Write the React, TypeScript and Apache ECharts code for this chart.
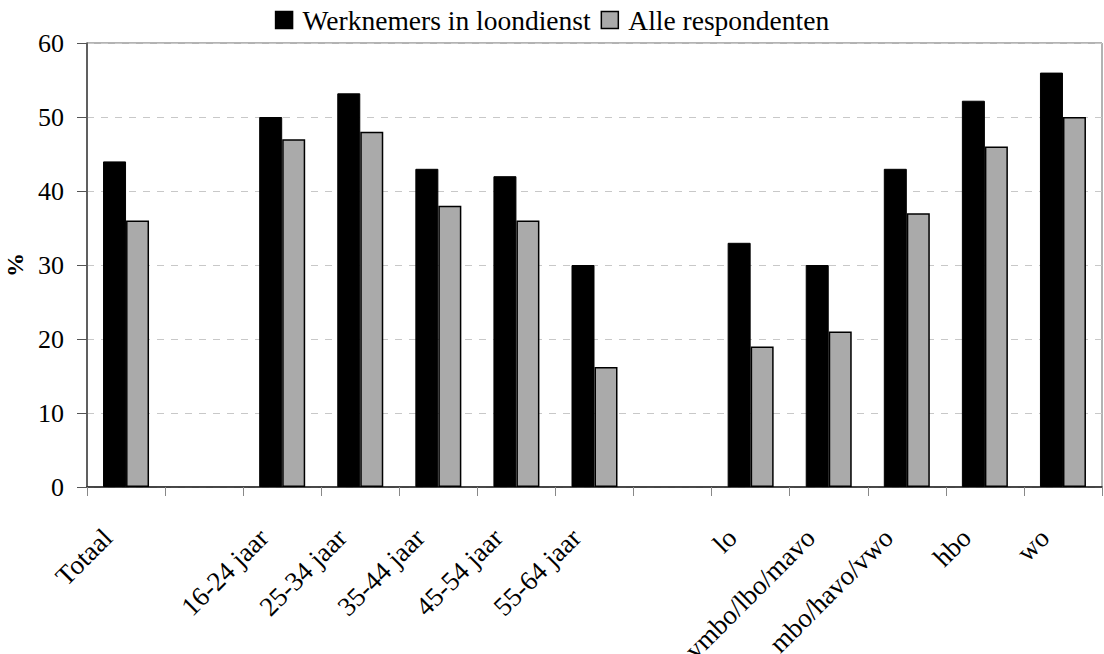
import React, { useEffect, useRef } from "react";
import * as echarts from "echarts";

const categories = [
  "Totaal", "", "16-24 jaar", "25-34 jaar", "35-44 jaar", "45-54 jaar", "55-64 jaar",
  "", "lo", "vmbo/lbo/mavo", "mbo/havo/vwo", "hbo", "wo",
];
const werknemers = [44, null, 50, 53.2, 43, 42, 30, null, 33, 30, 43, 52.2, 56];
const alle = [36, null, 47, 48, 38, 36, 16.2, null, 19, 21, 37, 46, 50];
const seriesNames = ["Werknemers in loondienst", "Alle respondenten"];
const yTicks = { min: 0, max: 60, interval: 10 };

const FONT = "'Liberation Serif', 'Times New Roman', serif";

export default function App() {
  const ref = useRef<HTMLDivElement>(null);
  useEffect(() => {
    document.body.style.margin = "0";
    const chart = echarts.init(ref.current!, null, { renderer: "svg" });
    chart.setOption({
      animation: false,
      backgroundColor: "#ffffff",
      textStyle: { fontFamily: FONT, color: "#000" },
      legend: {
        top: 1,
        left: "center",
        icon: "rect",
        itemWidth: 17,
        itemHeight: 17,
        itemGap: 10,
        itemStyle: { borderColor: "#000", borderWidth: 1.5 },
        textStyle: { fontFamily: FONT, fontSize: 27.5, color: "#000", padding: [0, 0, 0, 5] },
        data: seriesNames,
      },
      grid: {
        left: 87,
        right: 2,
        top: 43,
        bottom: 167,
        containLabel: false,
        outerBoundsMode: "none",
        show: true,
        borderColor: "#666",
        borderWidth: 1,
      },
      xAxis: {
        type: "category",
        data: categories,
        axisLine: { lineStyle: { color: "#222", width: 1.5 } },
        axisTick: { show: true, length: 9, lineStyle: { color: "#888" }, alignWithLabel: false },
        axisLabel: {
          interval: 0,
          rotate: 45,
          fontFamily: FONT,
          fontSize: 27,
          color: "#000",
          margin: 28,
          padding: [0, 26, 0, 0],
        },
      },
      yAxis: {
        type: "value",
        min: yTicks.min,
        max: yTicks.max,
        interval: yTicks.interval,
        name: "%",
        nameLocation: "middle",
        nameGap: 60,
        nameRotate: 90,
        nameTextStyle: { fontFamily: FONT, fontSize: 24, fontWeight: "bold", color: "#000" },
        axisLine: { show: true, lineStyle: { color: "#444", width: 1.5 } },
        axisTick: { show: true, length: 10, lineStyle: { color: "#555" } },
        axisLabel: { fontFamily: FONT, fontSize: 26, color: "#000", margin: 23 },
        splitLine: { show: true, lineStyle: { color: "#c8c8c8", type: [7, 7], width: 1 } },
      },
      series: [
        {
          name: seriesNames[0],
          type: "bar",
          data: werknemers,
          barWidth: 23,
          barGap: "0%",
          itemStyle: { color: "#000000", borderColor: "#000", borderWidth: 1 },
        },
        {
          name: seriesNames[1],
          type: "bar",
          data: alle,
          barWidth: 23,
          itemStyle: { color: "#aaaaaa", borderColor: "#000", borderWidth: 1.5 },
        },
      ],
    });
    return () => chart.dispose();
  }, []);
  return <div ref={ref} style={{ width: 1104, height: 654 }} />;
}
